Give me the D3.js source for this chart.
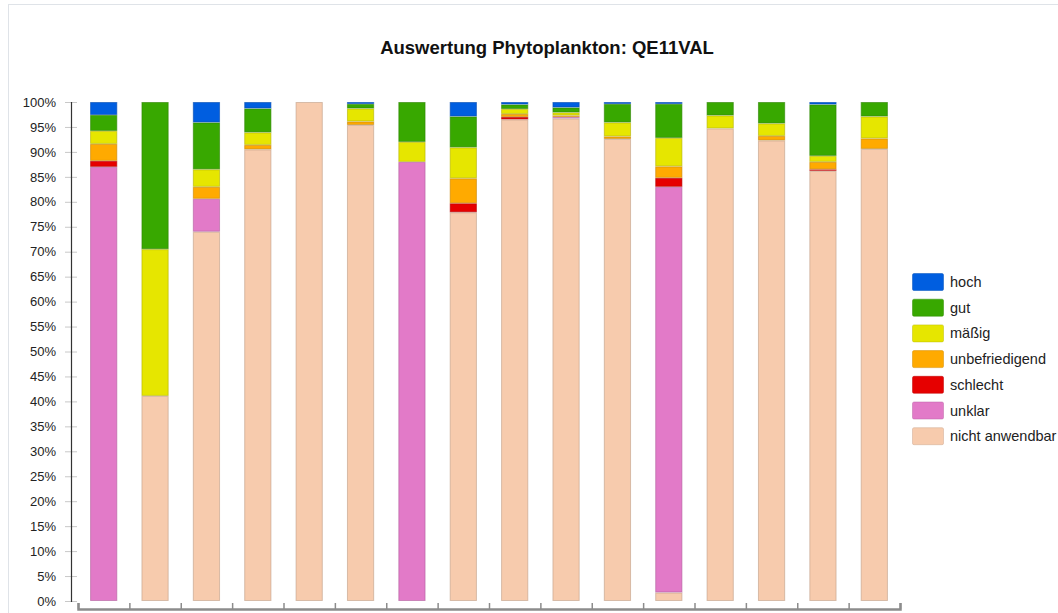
<!DOCTYPE html>
<meta charset="utf-8">
<style>
body { margin: 0; background: #fff; }
svg { font-family: "Liberation Sans", Arial, sans-serif; }
.yaxis text { font-size: 13px; fill: #222; }
.yaxis line { stroke: #c8c8c8; }
.xaxis line { stroke: #8c8c8c; stroke-width: 1.5; }
.legend text { font-size: 14.5px; fill: #222; }
</style>
<script src="https://cdn.jsdelivr.net/npm/d3@7"></script>
<body>
<script>

// one entry per bar (no category labels shown on the chart)
var bars = ["1","2","3","4","5","6","7","8","9","10","11","12","13","14","15","16"];

// classes from bottom to top of each bar
var classes = ["nicht anwendbar","unklar","schlecht","unbefriedigend","mäßig","gut","hoch"];
var colors  = ["#f7cbad","#e27ac8","#e60000","#ffaa00","#e6e600","#38a800","#005ee0"];

// percentages per class
var nichtAnwendbar = [0, 41.1, 74.0, 90.5, 100, 95.4, 0, 77.9, 96.5, 96.7, 92.6, 1.7, 94.7, 92.3, 86.2, 90.6];
var unklar         = [87.0, 0, 6.6, 0, 0, 0, 88.0, 0, 0, 0.3, 0, 81.3, 0, 0, 0, 0];
var schlecht       = [1.2, 0, 0, 0, 0, 0, 0, 1.8, 0.5, 0, 0, 1.8, 0, 0, 0.3, 0];
var unbefriedigend = [3.4, 0, 2.4, 0.9, 0, 0.7, 0, 5.0, 0.6, 0.3, 0.5, 2.3, 0, 0.9, 1.5, 2.1];
var maessig        = [2.6, 29.4, 3.5, 2.5, 0, 2.6, 4.0, 6.2, 1.0, 0.6, 2.8, 5.7, 2.6, 2.5, 1.2, 4.4];
var gut            = [3.2, 29.5, 9.4, 4.8, 0, 0.9, 8.0, 6.2, 0.9, 1.0, 3.7, 6.8, 2.7, 4.3, 10.3, 2.9];
var hoch           = [2.6, 0, 4.1, 1.3, 0, 0.4, 0, 2.9, 0.5, 1.1, 0.4, 0.4, 0, 0, 0.5, 0];

var yTicks = [0,5,10,15,20,25,30,35,40,45,50,55,60,65,70,75,80,85,90,95,100];

var series = [nichtAnwendbar, unklar, schlecht, unbefriedigend, maessig, gut, hoch];
var rows = bars.map(function(b, i) {
  var r = { bar: b };
  classes.forEach(function(c, k) { r[c] = series[k][i]; });
  return r;
});

var w = 1058, h = 613;
var svg = d3.select("body").append("svg").attr("width", w).attr("height", h);

// light frame
svg.append("rect")
  .attr("x", 8.5).attr("y", 4.5).attr("width", 1070).attr("height", 640)
  .attr("fill", "none").attr("stroke", "#dfe3e8");

svg.append("text")
  .attr("x", 547).attr("y", 54)
  .attr("text-anchor", "middle")
  .attr("font-size", "18.5px").attr("font-weight", "bold").attr("fill", "#111")
  .text("Auswertung Phytoplankton: QE11VAL");

var x = d3.scaleBand().domain(bars).range([78, 900]).paddingInner(0.47).paddingOuter(0.235);
var y = d3.scaleLinear().domain([0, 100]).range([601, 102]);

// y axis
var yAxis = svg.append("g").attr("class", "yaxis")
  .attr("transform", "translate(77,0)")
  .call(d3.axisLeft(y).tickValues(yTicks).tickSize(12).tickPadding(9)
    .tickFormat(function(d) { return d + "%"; }));
yAxis.select(".domain").remove();
svg.append("line")
  .attr("x1", 71.5).attr("x2", 71.5).attr("y1", y(100)).attr("y2", y(0) + 1)
  .attr("stroke", "#333").attr("stroke-width", 1.2);

// x axis: ticks on category boundaries
var xb = d3.scaleLinear().domain([0, bars.length]).range([78, 900]);
var xAxis = svg.append("g").attr("class", "xaxis")
  .attr("transform", "translate(0,609)")
  .call(d3.axisBottom(xb).ticks(bars.length).tickSize(-6).tickFormat(""));
xAxis.select(".domain").attr("stroke", "#8c8c8c").attr("stroke-width", 2.5);

// stacked bars
var stack = d3.stack().keys(classes);
var layers = stack(rows);

svg.append("g").selectAll("g")
  .data(layers)
  .enter().append("g")
  .attr("fill", function(d, i) { return colors[i]; })
  .attr("stroke", function(d, i) { return d3.color(colors[i]).darker(0.7); })
  .attr("stroke-opacity", 0.6)
  .selectAll("rect")
  .data(function(d) { return d.filter(function(p) { return p[1] - p[0] > 0; }); })
  .enter().append("rect")
  .attr("x", function(d) { return x(d.data.bar) + 0.5; })
  .attr("width", x.bandwidth() - 1)
  .attr("y", function(d) { return y(d[1]) + 0.5; })
  .attr("height", function(d) { return Math.max(0, y(d[0]) - y(d[1]) - 1); });

// legend (top entry = hoch)
var legendItems = classes.slice().reverse();
var legend = svg.append("g").attr("class", "legend")
  .selectAll("g").data(legendItems).enter().append("g")
  .attr("transform", function(d, i) { return "translate(912," + (273 + i * 25.7) + ")"; });
legend.append("rect")
  .attr("x", 0.5).attr("y", 0.5).attr("width", 31).attr("height", 17).attr("rx", 1.5)
  .attr("fill", function(d) { return colors[classes.indexOf(d)]; })
  .attr("stroke", function(d) { return d3.color(colors[classes.indexOf(d)]).darker(0.5); })
  .attr("stroke-opacity", 0.5);
legend.append("text")
  .attr("x", 38).attr("y", 14)
  .text(function(d) { return d; });

</script>
</body>
